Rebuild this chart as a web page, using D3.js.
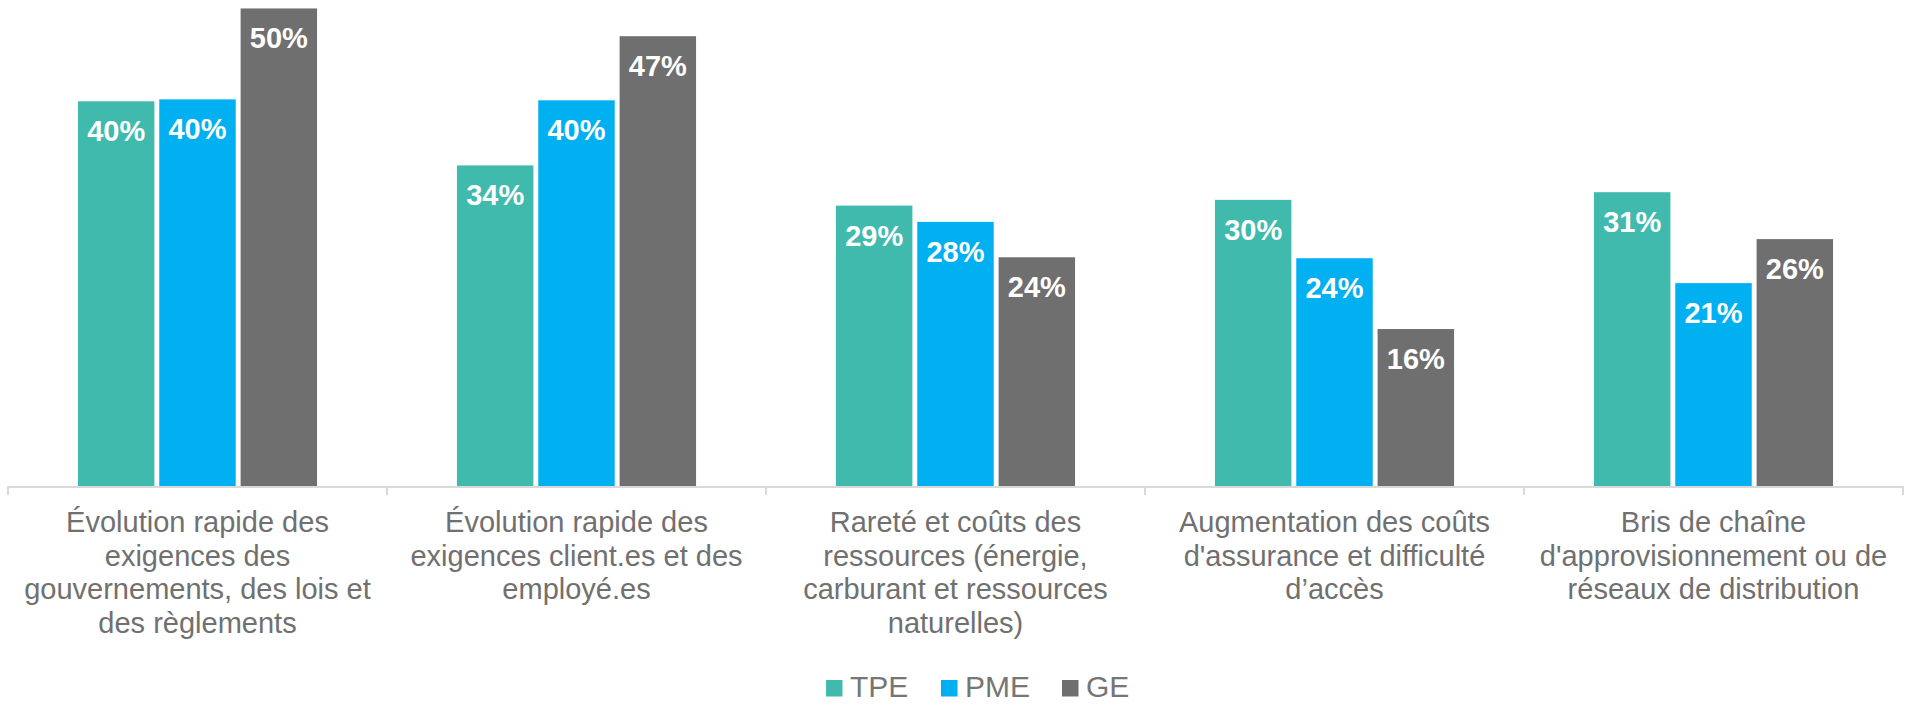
<!DOCTYPE html>
<meta charset="utf-8">
<style>
    * {
        margin: 0px;
    }
    body {
        background: #fff;
    }
    text {
        font-family: "Liberation Sans", Arial, sans-serif;
    }
    .cat text {
        font-size: 29px;
        fill: #707070;
    }
    .values text {
        font-size: 29px;
        font-weight: bold;
        fill: #fff;
    }
    .legend text {
        font-size: 30px;
        fill: #767676;
    }
</style>
<svg width="1911" height="705"></svg>
<script src="https://d3js.org/d3.v7.min.js"></script>
<script>
    // categories, one line of text per entry
    var categories = [
        ["Évolution rapide des", "exigences des", "gouvernements, des lois et", "des règlements"],
        ["Évolution rapide des", "exigences client.es et des", "employé.es"],
        ["Rareté et coûts des", "ressources (énergie,", "carburant et ressources", "naturelles)"],
        ["Augmentation des coûts", "d'assurance et difficulté", "d’accès"],
        ["Bris de chaîne", "d'approvisionnement ou de", "réseaux de distribution"]
    ];
    var series = ["TPE", "PME", "GE"];
    var tpe = [40.2, 33.5, 29.3, 29.9, 30.7];
    var pme = [40.4, 40.3, 27.6, 23.8, 21.2];
    var ge = [49.9, 47.0, 23.9, 16.4, 25.8];
    var colors = ["#41BAAE", "#00B0F0", "#6F6F6F"];

    var svg = d3.select("svg");
    var baseY = 486;

    var x = d3.scaleBand()
        .domain(d3.range(categories.length))
        .range([8, 1903]);

    var xs = d3.scaleBand()
        .domain(series)
        .range([0, x.bandwidth()])
        .paddingInner(0.06)
        .paddingOuter(0.86);

    var y = d3.scaleLinear()
        .domain([0, 50])
        .range([baseY, 7.5]);

    var color = d3.scaleOrdinal().domain(series).range(colors);

    var table = categories.map(function(c, i) {
        return [
            {s: "TPE", v: tpe[i], i: i},
            {s: "PME", v: pme[i], i: i},
            {s: "GE", v: ge[i], i: i}
        ];
    });

    var groups = svg.append("g")
        .selectAll("g")
        .data(table)
        .enter().append("g")
        .attr("transform", function(d, i) { return "translate(" + x(i) + ",0)"; });

    groups.selectAll("rect")
        .data(function(d) { return d; })
        .enter().append("rect")
        .attr("x", function(d) { return xs(d.s); })
        .attr("y", function(d) { return y(d.v); })
        .attr("width", xs.bandwidth())
        .attr("height", function(d) { return baseY - y(d.v); })
        .attr("fill", function(d) { return color(d.s); });

    groups.append("g")
        .attr("class", "values")
        .selectAll("text")
        .data(function(d) { return d; })
        .enter().append("text")
        .attr("x", function(d) { return xs(d.s) + xs.bandwidth() / 2; })
        .attr("y", function(d) { return y(d.v) + 40; })
        .attr("text-anchor", "middle")
        .text(function(d) { return Math.round(d.v) + "%"; });

    // axis line and ticks between categories
    svg.append("line")
        .attr("x1", 8).attr("x2", 1903)
        .attr("y1", baseY + 1).attr("y2", baseY + 1)
        .attr("stroke", "#d9d9d9")
        .attr("stroke-width", 2);

    svg.append("g")
        .selectAll("line")
        .data(d3.range(categories.length + 1))
        .enter().append("line")
        .attr("x1", function(d) { return 8 + d * x.step(); })
        .attr("x2", function(d) { return 8 + d * x.step(); })
        .attr("y1", baseY)
        .attr("y2", baseY + 9)
        .attr("stroke", "#d9d9d9")
        .attr("stroke-width", 2);

    var cat = svg.append("g")
        .attr("class", "cat")
        .selectAll("text")
        .data(categories)
        .enter().append("text")
        .attr("text-anchor", "middle")
        .attr("x", function(d, i) { return x(i) + x.bandwidth() / 2; })
        .attr("y", 532);

    cat.selectAll("tspan")
        .data(function(d) { return d; })
        .enter().append("tspan")
        .attr("x", function() { return this.parentNode.getAttribute("x"); })
        .attr("dy", function(d, j) { return j === 0 ? 0 : 33.5; })
        .text(function(d) { return d; });

    // legend
    var legendX = [826, 941, 1062];
    var legend = svg.append("g")
        .attr("class", "legend")
        .selectAll("g")
        .data(series)
        .enter().append("g")
        .attr("transform", function(d, i) { return "translate(" + legendX[i] + ",680)"; });

    legend.append("rect")
        .attr("width", 16.5)
        .attr("height", 16.5)
        .attr("fill", function(d) { return color(d); });

    legend.append("text")
        .attr("x", 24)
        .attr("y", 17)
        .text(function(d) { return d; });
</script>
